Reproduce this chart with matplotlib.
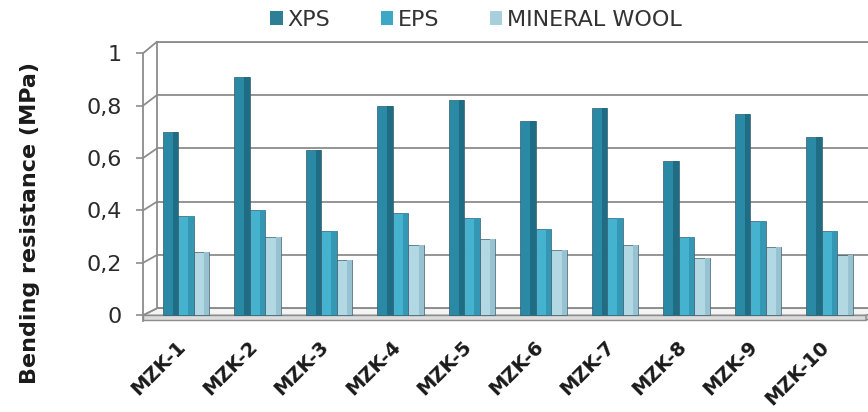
import numpy as np
import matplotlib
matplotlib.use("Agg")
import matplotlib.pyplot as plt
from matplotlib.patches import Polygon, Patch, ConnectionPatch
from matplotlib.transforms import ScaledTranslation

# ---- data ----
categories = ["MZK-1", "MZK-2", "MZK-3", "MZK-4", "MZK-5",
              "MZK-6", "MZK-7", "MZK-8", "MZK-9", "MZK-10"]
xps = [0.70, 0.91, 0.63, 0.80, 0.82, 0.74, 0.79, 0.59, 0.77, 0.68]
eps = [0.38, 0.40, 0.32, 0.39, 0.37, 0.33, 0.37, 0.30, 0.36, 0.32]
mineral_wool = [0.24, 0.30, 0.21, 0.27, 0.29, 0.25, 0.27, 0.22, 0.26, 0.23]
series_names = ["XPS", "EPS", "MINERAL WOOL"]
y_ticks = [0, 0.2, 0.4, 0.6, 0.8, 1.0]
y_tick_labels = ["0", "0,2", "0,4", "0,6", "0,8", "1"]

plt.rcParams['font.family'] = ['DejaVu Sans']

W, H = 868, 412
fig = plt.figure(figsize=(W / 100, H / 100), dpi=100)
fig.patch.set_facecolor('white')


def fx(px):
    return px / W


def fy(py):
    return (H - py) / H


grid_col = '#8c8c8c'

# ---- back wall ----
axb = fig.add_axes([fx(157), fy(308.3), (904 - 157) / W, (308.3 - 41.7) / H])
axb.set_zorder(0)
axb.set_xlim(0, 1)
axb.set_ylim(0, 1)
axb.set_yticks(y_ticks)
axb.grid(axis='y', color=grid_col, lw=1.3)
axb.tick_params(left=False, labelleft=False, bottom=False, labelbottom=False)
for s in ['bottom', 'right']:
    axb.spines[s].set_visible(False)
for s in ['left', 'top']:
    axb.spines[s].set_color(grid_col)
    axb.spines[s].set_linewidth(1.3)

# ---- floor ----
floor_top = Polygon([(fx(143), fy(315.3)), (fx(157), fy(308.3)), (fx(885), fy(308.3)), (fx(866), fy(315.3))],
                    closed=True, transform=fig.transFigure, facecolor='#f4f4f4', edgecolor=grid_col, lw=1.0, zorder=1)
floor_front = Polygon([(fx(143), fy(315.3)), (fx(866), fy(315.3)), (fx(866), fy(320)), (fx(143), fy(320))],
                      closed=True, transform=fig.transFigure, facecolor='#dcdcdc', edgecolor=grid_col, lw=1.0, zorder=1)
floor_side = Polygon([(fx(866), fy(315.3)), (fx(885), fy(308.3)), (fx(885), fy(313)), (fx(866), fy(320))],
                     closed=True, transform=fig.transFigure, facecolor='#cfcfcf', edgecolor=grid_col, lw=1.0, zorder=1)
for p in (floor_top, floor_front, floor_side):
    fig.add_artist(p)

# ---- front axes with bars ----
pitch = 71.5
a0 = -(186 - 143) / pitch
axf = fig.add_axes([fx(143), fy(320.5), (890 - 143) / W, (320.5 - 53.3) / H])
axf.set_zorder(2)
axf.patch.set_alpha(0)
axf.set_xlim(a0, a0 + (890 - 143) / pitch)
axf.set_ylim(-0.02, 1)
for s in ['bottom', 'right', 'top']:
    axf.spines[s].set_visible(False)
axf.spines['left'].set_color(grid_col)
axf.spines['left'].set_linewidth(1.3)

x = np.arange(len(categories))
w = 15.6 / pitch
face = ['#2a8aa5', '#45b3d0', '#b2d8e4']
dark = ['#1f6d84', '#3497b3', '#97c2d1']
for k, vals in enumerate([xps, eps, mineral_wool]):
    xc = x + (k - 1) * w
    axf.bar(xc, vals, width=w, color=face[k], edgecolor='#36596a', lw=0.5, zorder=3)
    axf.bar(xc + w * 0.33, vals, width=w * 0.34, color=dark[k], lw=0, zorder=3.5)

axf.set_yticks(y_ticks)
axf.set_yticklabels(y_tick_labels)
axf.tick_params(axis='y', length=5, width=1.2, color=grid_col, labelsize=16, labelcolor='#2b2b2b', pad=10)
axf.set_xticks(x)
axf.set_xticklabels(categories, rotation=45, ha='right', va='top', rotation_mode='anchor',
                    fontsize=14, fontweight='bold', color='#1a1a1a')
axf.tick_params(axis='x', length=0, pad=12)
shift = ScaledTranslation(-10 / 100, 0, fig.dpi_scale_trans)
for lab in axf.get_xticklabels():
    lab.set_transform(lab.get_transform() + shift)

# diagonal connectors between front axis and back wall
for v in y_ticks:
    con = ConnectionPatch(xyA=(0, v), coordsA=axf.get_yaxis_transform(),
                          xyB=(0, v), coordsB=axb.get_yaxis_transform(),
                          color=grid_col, lw=1.3)
    con.set_zorder(1.5)
    fig.add_artist(con)

# ---- y label ----
fig.text(fx(30), fy(223), 'Bending resistance (MPa)', rotation=90, fontsize=16,
         fontweight='bold', ha='center', va='center', color='#1a1a1a')

# ---- legend ----
leg_cols = ['#2e7f96', '#3ba9c6', '#a8d0dc']
handles = [Patch(facecolor=c, edgecolor='none') for c in leg_cols]
fig.legend(handles, series_names, loc='center', bbox_to_anchor=(fx(476), fy(20)), ncol=3,
           frameon=False, fontsize=16, handlelength=0.55, handleheight=0.55,
           handletextpad=0.2, columnspacing=2.3, labelcolor='#333333')

fig.savefig('out.png', dpi=100)
